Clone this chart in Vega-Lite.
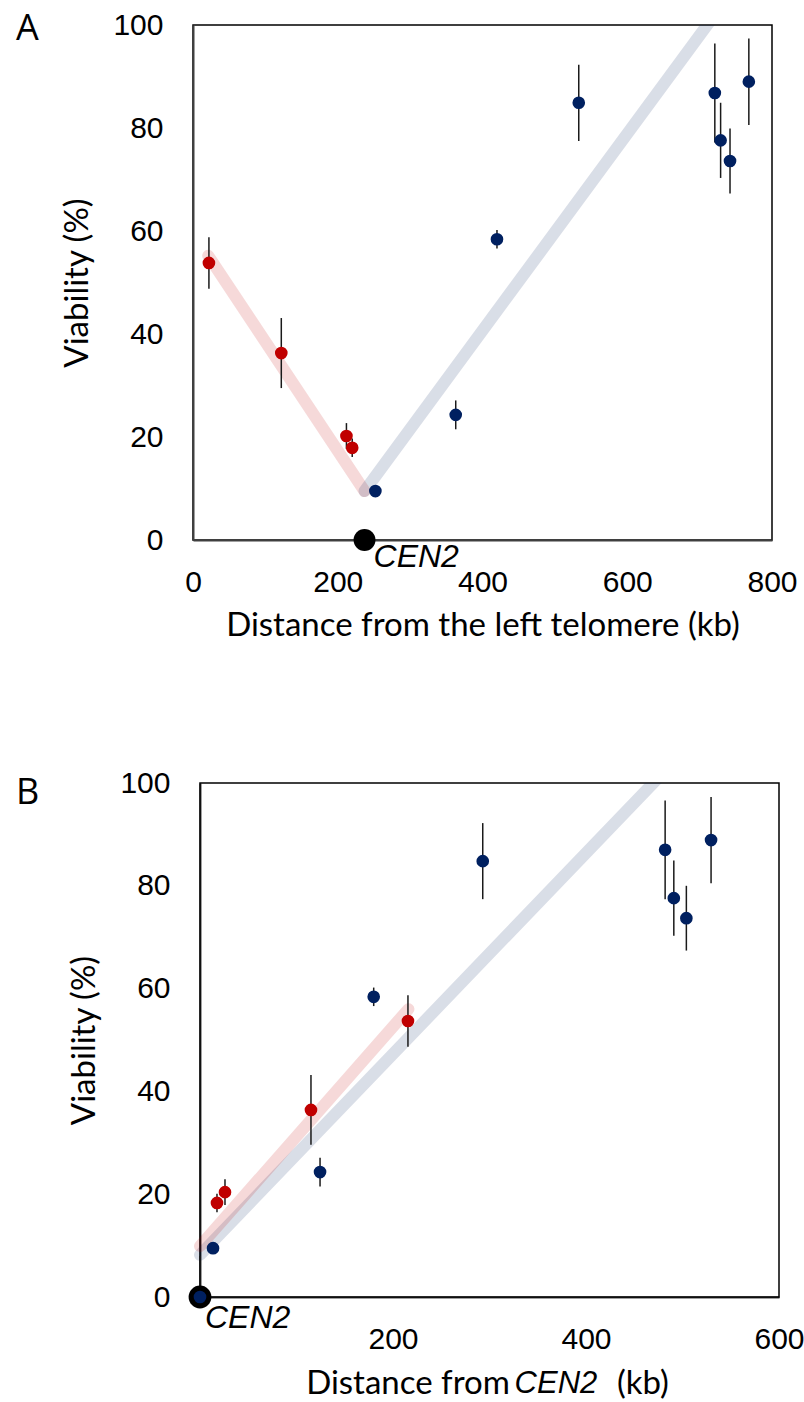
{
  "$schema": "https://vega.github.io/schema/vega-lite/v6.json",
  "padding": {"left": 15, "top": 9, "right": 5, "bottom": 0},
  "background": "white",
  "spacing": 125,
  "config": {
    "view": {"stroke": "#000", "strokeWidth": 1.5},
    "axis": {
      "grid": false, "ticks": false,
      "domainColor": "#404040", "domainWidth": 2,
      "labelColor": "#000", "titleColor": "#000",
      "labelFont": "Liberation Sans", "labelFontSize": 30,
      "titleFont": "Lato", "titleFontSize": 33, "titleFontWeight": "normal"
    },
    "title": {"font": "Open Sans", "fontSize": 36, "fontWeight": "normal", "color": "#000"}
  },
  "datasets": {
    "ptsA": [
      {"pos": 22, "v": 53.8, "lo": 48.8, "hi": 58.8, "side": "left"},
      {"pos": 122, "v": 36.3, "lo": 29.5, "hi": 43.1, "side": "left"},
      {"pos": 212, "v": 20.2, "lo": 17.7, "hi": 22.7, "side": "left"},
      {"pos": 220, "v": 17.9, "lo": 16.1, "hi": 19.7, "side": "left"},
      {"pos": 252, "v": 9.5, "lo": 9.0, "hi": 10.0, "side": "right"},
      {"pos": 363, "v": 24.3, "lo": 21.5, "hi": 27.1, "side": "right"},
      {"pos": 420, "v": 58.4, "lo": 56.6, "hi": 60.2, "side": "right"},
      {"pos": 533, "v": 84.9, "lo": 77.5, "hi": 92.3, "side": "right"},
      {"pos": 721, "v": 86.8, "lo": 77.2, "hi": 96.4, "side": "right"},
      {"pos": 729, "v": 77.6, "lo": 70.3, "hi": 84.9, "side": "right"},
      {"pos": 742, "v": 73.6, "lo": 67.3, "hi": 79.9, "side": "right"},
      {"pos": 768, "v": 89.0, "lo": 80.6, "hi": 97.4, "side": "right"}
    ],
    "ptsB": [
      {"pos": 17.6, "v": 18.3, "lo": 16.5, "hi": 20.1, "side": "left"},
      {"pos": 25.9, "v": 20.4, "lo": 17.9, "hi": 22.9, "side": "left"},
      {"pos": 115, "v": 36.4, "lo": 29.6, "hi": 43.2, "side": "left"},
      {"pos": 215.5, "v": 53.7, "lo": 48.7, "hi": 58.7, "side": "left"},
      {"pos": 0, "v": 0, "lo": 0, "hi": 8, "side": "right"},
      {"pos": 13.5, "v": 9.5, "lo": 9.0, "hi": 10.0, "side": "right"},
      {"pos": 124.4, "v": 24.3, "lo": 21.5, "hi": 27.1, "side": "right"},
      {"pos": 180, "v": 58.4, "lo": 56.6, "hi": 60.2, "side": "right"},
      {"pos": 293, "v": 84.8, "lo": 77.4, "hi": 92.2, "side": "right"},
      {"pos": 482, "v": 87.0, "lo": 77.4, "hi": 96.6, "side": "right"},
      {"pos": 491, "v": 77.6, "lo": 70.3, "hi": 84.9, "side": "right"},
      {"pos": 504, "v": 73.7, "lo": 67.4, "hi": 80.0, "side": "right"},
      {"pos": 529.6, "v": 88.9, "lo": 80.5, "hi": 97.3, "side": "right"}
    ],
    "trendA": [
      {"pos": 21, "v": 55.2, "side": "left"},
      {"pos": 237, "v": 9.5, "side": "left"},
      {"pos": 237, "v": 9.5, "side": "right"},
      {"pos": 722, "v": 102.2, "side": "right"}
    ],
    "trendB": [
      {"pos": 0, "v": 8.2, "side": "right"},
      {"pos": 480, "v": 102.0, "side": "right"},
      {"pos": 0, "v": 9.9, "side": "left"},
      {"pos": 216, "v": 56.0, "side": "left"}
    ],
    "cenA": [{"pos": 237, "v": 0, "label": "CEN2"}],
    "cenB": [{"pos": 0, "v": 0, "label": "CEN2"}],
    "frameB": [{"start": 0, "end": 600, "bottom": 0, "top": 100}],
    "titleB": [
      {"word": "Distance from", "at": 110, "italic": "no"},
      {"word": "CEN2", "at": 326, "italic": "yes"},
      {"word": "(kb)", "at": 432, "italic": "no"}
    ]
  },
  "vconcat": [
    {
      "width": 579, "height": 515,
      "title": {"text": "A", "anchor": "start", "frame": "group", "dx": -177, "dy": 42},
      "encoding": {
        "x": {"field": "pos", "type": "quantitative",
              "scale": {"domain": [0, 800], "nice": false, "zero": false},
              "axis": {"values": [0, 200, 400, 600, 800], "labelPadding": 27, "titlePadding": 12,
                       "title": "Distance from the left telomere (kb)", "labelFlush": false, "labelOverlap": false}},
        "y": {"field": "v", "type": "quantitative",
              "scale": {"domain": [0, 100], "nice": false},
              "axis": {"values": [0, 20, 40, 60, 80, 100], "labelPadding": 30, "titlePadding": 18,
                       "title": "Viability (%)", "labelFlush": false, "labelOverlap": false}}
      },
      "layer": [
        {
          "data": {"name": "trendA"},
          "mark": {"type": "line", "strokeWidth": 12, "strokeCap": "round", "opacity": 0.15, "clip": true},
          "encoding": {
            "color": {"field": "side", "type": "nominal", "scale": {"domain": ["left", "right"], "range": ["#C00000", "#002060"]}, "legend": null}
          }
        },
        {
          "data": {"name": "ptsA"},
          "mark": {"type": "rule", "color": "#1a1a1a", "strokeWidth": 1.5},
          "encoding": {"y": {"field": "lo", "type": "quantitative"}, "y2": {"field": "hi"}}
        },
        {
          "data": {"name": "cenA"},
          "mark": {"type": "circle", "size": 480, "color": "#000", "opacity": 1}
        },
        {
          "data": {"name": "cenA"},
          "mark": {"type": "text", "align": "left", "baseline": "middle", "dx": 9, "dy": 17, "fontSize": 32, "font": "Liberation Sans", "fontStyle": "italic", "color": "#000"},
          "encoding": {"text": {"field": "label"}}
        },
        {
          "data": {"name": "ptsA"},
          "mark": {"type": "circle", "size": 160, "opacity": 1},
          "encoding": {
            "color": {"field": "side", "type": "nominal", "scale": {"domain": ["left", "right"], "range": ["#C00000", "#002060"]}, "legend": null}
          }
        }
      ]
    },
    {
      "width": 586, "height": 514,
      "view": {"stroke": null},
      "title": {"text": "B", "anchor": "start", "frame": "group", "dx": -177, "dy": 48},
      "layer": [
        {
          "data": {"name": "frameB"},
          "mark": {"type": "rect", "fill": "transparent", "stroke": "#000", "strokeWidth": 1.5},
          "encoding": {
            "x": {"field": "start", "type": "quantitative",
                  "scale": {"domain": [-7.25, 600], "nice": false, "zero": false},
                  "axis": {"values": [200, 400, 600], "labelPadding": 27, "title": null, "labelFlush": false, "labelOverlap": false}},
            "x2": {"field": "end"},
            "y": {"field": "bottom", "type": "quantitative",
                  "scale": {"domain": [0, 100], "nice": false},
                  "axis": {"values": [0, 20, 40, 60, 80, 100], "labelPadding": 30, "titlePadding": 18, "offset": -7,
                           "title": "Viability (%)", "labelFlush": false, "labelOverlap": false}},
            "y2": {"field": "top"}
          }
        },
        {
          "data": {"name": "trendB"},
          "mark": {"type": "line", "strokeWidth": 12, "strokeCap": "round", "opacity": 0.15, "clip": true},
          "encoding": {
            "x": {"field": "pos", "type": "quantitative"},
            "y": {"field": "v", "type": "quantitative"},
            "color": {"field": "side", "type": "nominal", "scale": {"domain": ["left", "right"], "range": ["#C00000", "#002060"]}, "legend": null},
            "order": {"field": "pos"}
          }
        },
        {
          "data": {"name": "ptsB"},
          "mark": {"type": "rule", "color": "#1a1a1a", "strokeWidth": 1.5},
          "encoding": {
            "x": {"field": "pos", "type": "quantitative"},
            "y": {"field": "lo", "type": "quantitative"}, "y2": {"field": "hi"}
          }
        },
        {
          "data": {"name": "cenB"},
          "mark": {"type": "circle", "size": 520, "color": "#000", "opacity": 1},
          "encoding": {
            "x": {"field": "pos", "type": "quantitative"},
            "y": {"field": "v", "type": "quantitative"}
          }
        },
        {
          "data": {"name": "cenB"},
          "mark": {"type": "text", "align": "left", "baseline": "middle", "dx": 5, "dy": 21, "fontSize": 32, "font": "Liberation Sans", "fontStyle": "italic", "color": "#000"},
          "encoding": {
            "x": {"field": "pos", "type": "quantitative"},
            "y": {"field": "v", "type": "quantitative"},
            "text": {"field": "label"}
          }
        },
        {
          "data": {"name": "ptsB"},
          "mark": {"type": "circle", "size": 160, "opacity": 1},
          "encoding": {
            "x": {"field": "pos", "type": "quantitative"},
            "y": {"field": "v", "type": "quantitative"},
            "color": {"field": "side", "type": "nominal", "scale": {"domain": ["left", "right"], "range": ["#C00000", "#002060"]}, "legend": null}
          }
        },
        {
          "data": {"name": "titleB"},
          "transform": [{"filter": "datum.italic === 'no'"}],
          "mark": {"type": "text", "align": "left", "baseline": "middle", "font": "Lato", "fontSize": 33, "color": "#000"},
          "encoding": {
            "x": {"field": "at", "type": "quantitative"},
            "y": {"datum": -17, "type": "quantitative"},
            "text": {"field": "word"}
          }
        },
        {
          "data": {"name": "titleB"},
          "transform": [{"filter": "datum.italic === 'yes'"}],
          "mark": {"type": "text", "align": "left", "baseline": "middle", "font": "Liberation Sans", "fontSize": 31, "fontStyle": "italic", "color": "#000"},
          "encoding": {
            "x": {"field": "at", "type": "quantitative"},
            "y": {"datum": -17, "type": "quantitative"},
            "text": {"field": "word"}
          }
        }
      ]
    }
  ]
}
